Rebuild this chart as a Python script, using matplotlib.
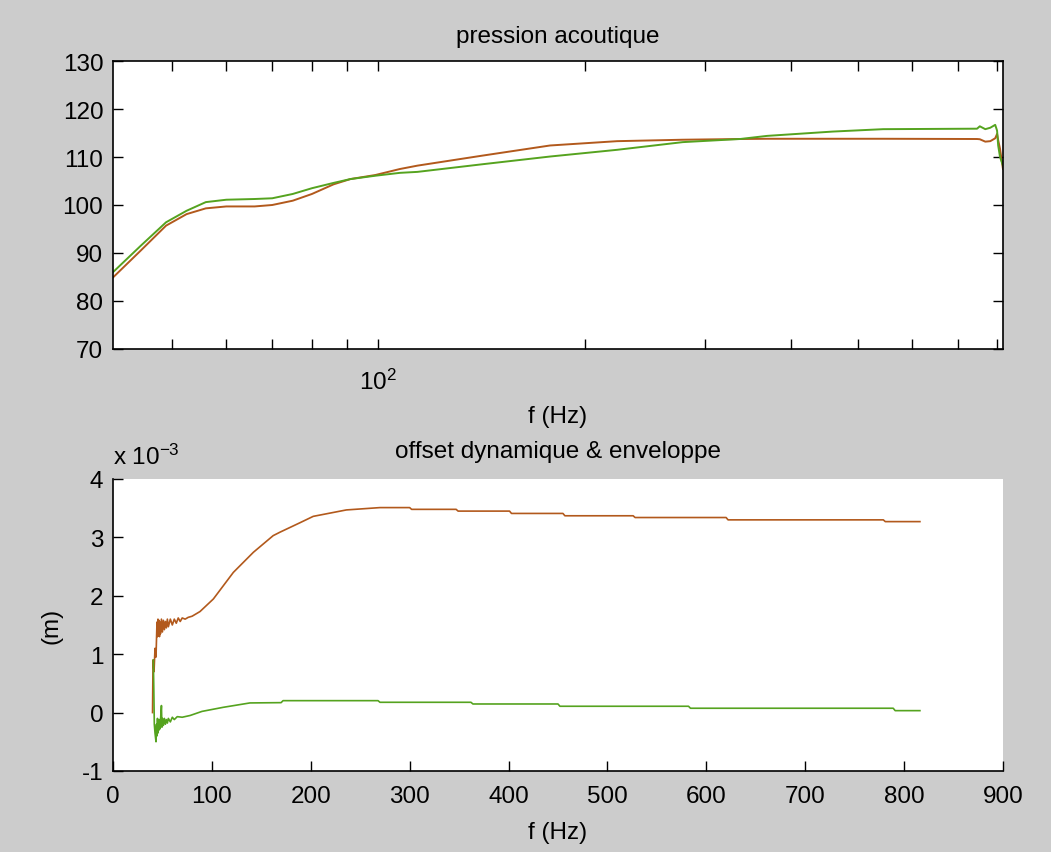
import matplotlib
matplotlib.use("Agg")
import matplotlib.pyplot as plt
from matplotlib.ticker import FixedLocator, NullLocator

# top: sound pressure level (dB) vs frequency, log axis
f_top = [41, 45, 49, 52.5, 56, 60, 66, 70, 75, 80, 86, 91, 99, 107.5, 114, 142, 178, 223, 278,
         337, 369, 460, 545, 747, 754, 768, 781, 794, 799, 802, 807, 815]
spl_green = [86.0, 91.5, 96.4, 98.8, 100.6, 101.1, 101.25, 101.4, 102.3, 103.5, 104.6, 105.4, 106.1,
             106.7, 106.9, 108.5, 110.1, 111.5, 113.1, 113.75, 114.4, 115.3, 115.8, 115.9, 116.4,
             115.8, 116.1, 116.7, 115.5, 112.4, 110.0, 108.2]
spl_brown = [84.9, 90.5, 95.7, 98.1, 99.3, 99.7, 99.7, 100.0, 100.9, 102.3, 104.3, 105.4, 106.25,
             107.5, 108.2, 110.3, 112.4, 113.3, 113.6, 113.75, 113.8, 113.8, 113.8, 113.75, 113.7,
             113.2, 113.3, 113.9, 114.8, 113.5, 111.7, 107.5]

# bottom: envelope and dynamic offset, in units of 1e-3 m
f_env = [40, 40.5, 41.5, 42.5, 43.5, 44.5, 45, 45.5, 46, 46.5, 47, 47.5, 48, 49, 50, 51, 52, 53, 54,
         55, 56, 58, 60, 62, 64, 66, 68, 70, 73, 76, 80, 88, 101.5, 121.7, 142, 162, 169, 189,
         202.5, 236, 270, 300, 302, 347, 349, 401, 403, 455, 457, 526, 528, 620, 622, 779, 781, 816]
env = [0.0, 0.9, 0.7, 1.1, 0.95, 1.55, 1.3, 1.6, 1.35, 1.58, 1.3, 1.55, 1.35, 1.6, 1.38, 1.58, 1.42,
       1.56, 1.45, 1.6, 1.47, 1.6, 1.5, 1.6, 1.53, 1.62, 1.56, 1.62, 1.6, 1.63, 1.65, 1.73, 1.945,
       2.40, 2.745, 3.03, 3.09, 3.25, 3.36, 3.47, 3.51, 3.51, 3.48, 3.48, 3.45, 3.45, 3.41, 3.41,
       3.37, 3.37, 3.34, 3.34, 3.30, 3.30, 3.27, 3.27]

f_off = [40.8, 41.2, 41.8, 42.5, 43.5, 44, 44.5, 45, 45.5, 46, 46.5, 47, 47.5, 48, 49, 49.5, 50, 51,
         52, 53, 54, 55, 56, 58, 60, 62, 65, 70, 78, 90, 111.5, 138.5, 170, 172, 268, 270, 362,
         364, 450, 452, 582, 584, 789, 791, 816]
offset = [0.9, 0.5, -0.2, -0.35, -0.5, -0.2, -0.4, -0.1, -0.35, -0.15, -0.3, -0.12, -0.28, -0.15,
          0.12, -0.25, -0.1, -0.22, -0.1, -0.2, -0.12, -0.18, -0.1, -0.16, -0.08, -0.12, -0.07,
          -0.08, -0.05, 0.02, 0.09, 0.165, 0.17, 0.204, 0.204, 0.176, 0.176, 0.147, 0.147, 0.108,
          0.108, 0.074, 0.074, 0.033, 0.033]

log_ticks = [50, 60, 70, 80, 90, 100, 200, 300, 400, 500, 600, 700, 800]

GREEN = "#55a31f"
BROWN = "#b2591c"
FS = 17.5

plt.rcParams["font.family"] = ["Liberation Sans", "DejaVu Sans"]
plt.rcParams["font.size"] = FS
plt.rcParams["axes.unicode_minus"] = False
plt.rcParams["mathtext.fontset"] = "custom"
plt.rcParams["mathtext.rm"] = "Liberation Sans"
plt.rcParams["mathtext.it"] = "Liberation Sans"

fig = plt.figure(figsize=(10.51, 8.53), dpi=100, facecolor="#cccccc")

# top plot
ax1 = fig.add_axes([0.1075, 0.5897, 0.8468, 0.3376])
ax1.plot(f_top, spl_brown, color=BROWN, linewidth=1.4)
ax1.plot(f_top, spl_green, color=GREEN, linewidth=1.4)
ax1.set_xscale("log")
ax1.set_xlim(41, 815)
ax1.set_ylim(70, 130)
ax1.set_yticks([70, 80, 90, 100, 110, 120, 130])
ax1.xaxis.set_major_locator(FixedLocator(log_ticks))
ax1.xaxis.set_minor_locator(NullLocator())
ax1.xaxis.set_major_formatter(plt.FuncFormatter(lambda v, p: r"$10^{2}$" if v == 100 else ""))
ax1.tick_params(direction="in", length=7.5, width=1, top=True, right=True, pad=7, labelsize=FS)
ax1.tick_params(axis="x", pad=14)
ax1.set_title("pression acoutique", fontsize=FS, pad=14)
ax1.set_xlabel("f (Hz)", fontsize=FS, labelpad=8)
for s in ax1.spines.values():
    s.set_linewidth(1.2)

# bottom plot
ax2 = fig.add_axes([0.1075, 0.0950, 0.8468, 0.3423])
ax2.plot(f_env, env, color=BROWN, linewidth=1.2)
ax2.plot(f_off, offset, color=GREEN, linewidth=1.2)
ax2.set_xlim(0, 900)
ax2.set_ylim(-1, 4)
ax2.set_xticks(range(0, 901, 100))
ax2.set_yticks([-1, 0, 1, 2, 3, 4])
ax2.spines["top"].set_visible(False)
ax2.spines["right"].set_visible(False)
for s in ["left", "bottom"]:
    ax2.spines[s].set_linewidth(1.2)
ax2.tick_params(direction="in", length=7.5, width=1, pad=7, labelsize=FS)
ax2.tick_params(axis="x", pad=10)
ax2.set_title("offset dynamique & enveloppe", fontsize=FS, pad=16)
ax2.set_xlabel("f (Hz)", fontsize=FS, labelpad=10)
ax2.set_ylabel("(m)", fontsize=FS, labelpad=14)
ax2.text(0.0, 1.035, r"x 10$^{-3}$", transform=ax2.transAxes, fontsize=FS, ha="left", va="bottom")

plt.savefig("out.png", dpi=100, facecolor=fig.get_facecolor())
